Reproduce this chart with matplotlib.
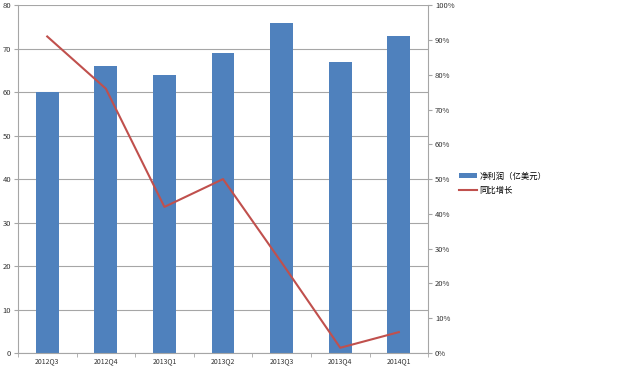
import matplotlib.pyplot as plt
import numpy as np
from matplotlib.ticker import FixedLocator

plt.rcParams['font.family'] = ['Noto Sans CJK SC', 'DejaVu Sans']

quarters = ['2012Q3', '2012Q4', '2013Q1', '2013Q2', '2013Q3', '2013Q4', '2014Q1']
profit = [60, 66, 64, 69, 76, 67, 73]
growth = [91, 76, 42, 50, 26, 1.5, 6]

BAR = '#4F81BD'
LINE = '#C0504D'
GRID = '#A6A6A6'

fig = plt.figure(figsize=(6.4, 3.7), dpi=100)
ax = fig.add_axes([0.028, 0.046, 0.641, 0.94])
x = np.arange(len(quarters))

bars = ax.bar(x, profit, width=0.39, color=BAR, zorder=2, label='净利润（亿美元）')
ax.set_xlim(-0.5, len(quarters) - 0.5)
ax.set_ylim(0, 80)
ax.set_yticks(range(0, 81, 10))
ax.yaxis.grid(True, color=GRID, linewidth=0.8, zorder=0)
ax.set_xticks(x)
ax.set_xticklabels(quarters)
ax.xaxis.set_minor_locator(FixedLocator(np.arange(-0.5, len(quarters), 1)))
ax.tick_params(axis='x', which='major', length=0, labelsize=5, pad=3, colors='#333333')
ax.tick_params(axis='x', which='minor', length=3, color=GRID)
ax.tick_params(axis='y', length=3, color=GRID, labelsize=5.5, pad=2, colors='#333333')
for s in ['top', 'right']:
    ax.spines[s].set_visible(False)
for s in ['left', 'bottom']:
    ax.spines[s].set_color(GRID)

ax2 = ax.twinx()
line, = ax2.plot(x, growth, color=LINE, linewidth=1.5, label='同比增长')
ax2.set_ylim(0, 100)
ax2.set_yticks(range(0, 101, 10))
ax2.set_yticklabels(['%d%%' % v for v in range(0, 101, 10)])
ax2.tick_params(axis='y', length=3, color=GRID, labelsize=5.5, pad=2, colors='#333333')
for s in ['top', 'left', 'bottom']:
    ax2.spines[s].set_visible(False)
ax2.spines['right'].set_color(GRID)

fig.legend(handles=[bars, line], loc='center left', bbox_to_anchor=(0.705, 0.505),
           frameon=False, fontsize=6, handlelength=2.2, handleheight=0.6,
           handletextpad=0.3, labelspacing=0.6)

fig.savefig('out.png', dpi=100)
